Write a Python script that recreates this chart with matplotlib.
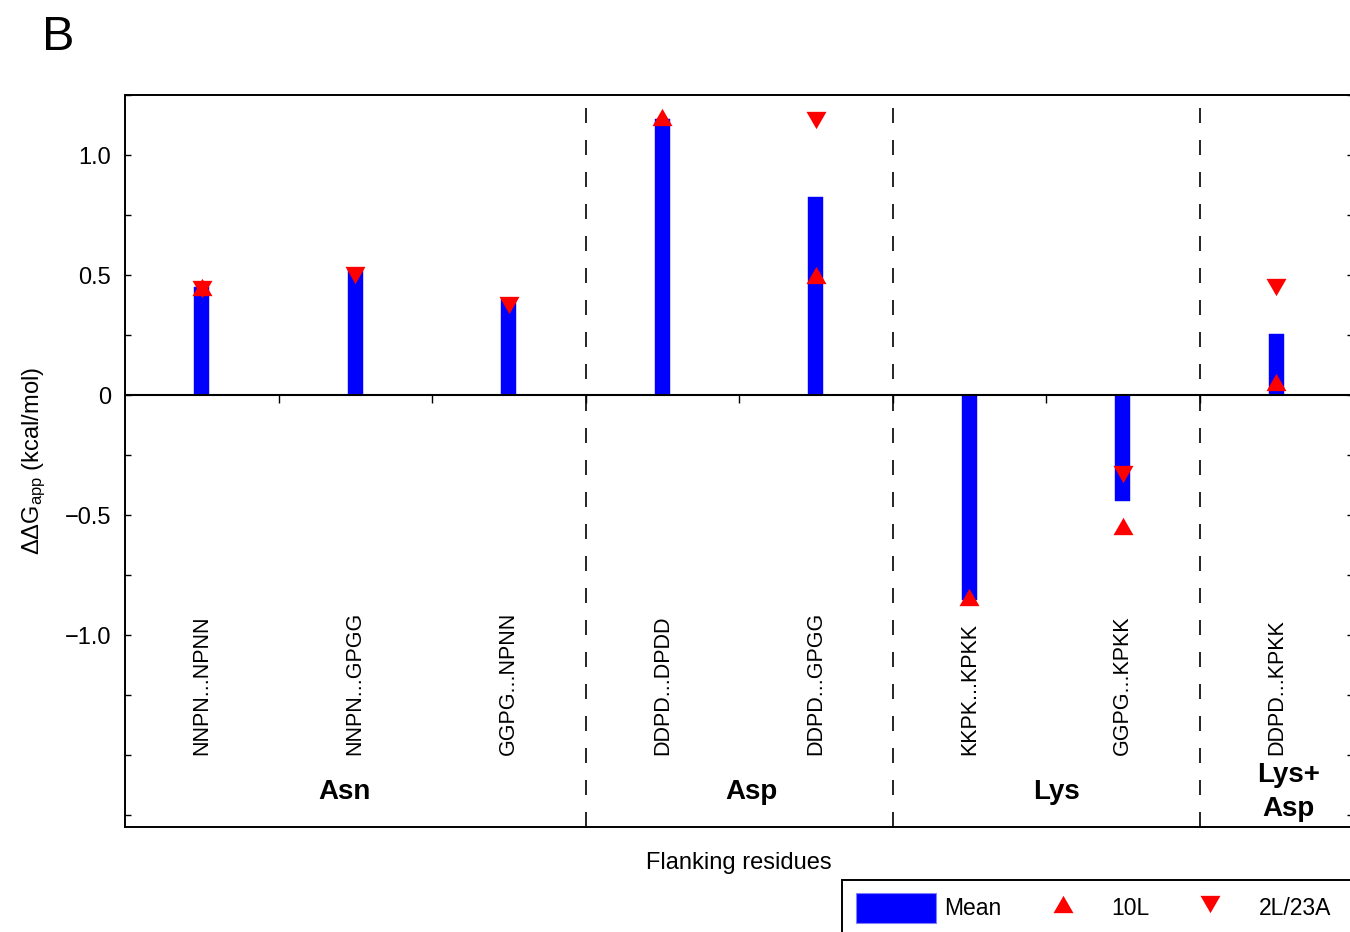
import numpy as np
import matplotlib
matplotlib.use("Agg")
import matplotlib.pyplot as plt
from matplotlib.lines import Line2D
from matplotlib.patches import Patch, Rectangle
from matplotlib.path import Path
from matplotlib.ticker import MultipleLocator, FuncFormatter

# ================= data =================
labels = ["NNPN...NPNN", "NNPN...GPGG", "GGPG...NPNN", "DDPD...DPDD",
          "DDPD...GPGG", "KKPK...KPKK", "GGPG...KPKK", "DDPD...KPKK"]
mean_ddg = [0.45, 0.52, 0.40, 1.15, 0.825, -0.855, -0.44, 0.255]
ddg_10L = [0.45, np.nan, np.nan, 1.16, 0.50, -0.84, -0.545, 0.055]
ddg_2L23A = [0.44, 0.50, 0.375, np.nan, 1.145, np.nan, -0.33, 0.45]

group_names = ["Asn", "Asp", "Lys", "Lys+\nAsp"]
group_sizes = [3, 2, 2, 1]

# equilateral triangles (matplotlib's ^/v are as tall as they are wide)
tri_up = Path([(-1, -0.866), (1, -0.866), (0, 0.866), (-1, -0.866)])
tri_down = Path([(-1, 0.866), (1, 0.866), (0, -0.866), (-1, 0.866)])


def tick_label(v, pos):
    # label every 0.5 between -1 and 1, leave the rest blank
    if abs(v * 2 - round(v * 2)) > 1e-9 or v < -1.01:
        return ''
    if abs(v) < 1e-9:
        return '0'
    return f'{v:.1f}'.replace('-', '\u2212')


def main():
    plt.rcParams['font.family'] = ['Liberation Sans', 'DejaVu Sans']
    plt.rcParams['mathtext.fontset'] = 'custom'
    plt.rcParams['mathtext.rm'] = 'Liberation Sans'
    plt.rcParams['mathtext.it'] = 'Liberation Sans'

    fig = plt.figure(figsize=(13.5, 9.32), dpi=100)
    ax = fig.add_axes([125 / 1350, 1 - 827 / 932, 1228 / 1350, 732 / 932])

    x = np.arange(len(labels))
    ylo, yhi = -1.8, 1.25

    # === bars + replicate markers ===
    ax.bar(x, mean_ddg, width=0.1, color='#0000ff', edgecolor='#0000ff',
           linewidth=0.3, zorder=2)
    ax.plot(x, ddg_10L, linestyle='none', marker=tri_up, markersize=14.4,
            color='red', markeredgewidth=0, zorder=3)
    ax.plot(x, ddg_2L23A, linestyle='none', marker=tri_down, markersize=14.4,
            color='red', markeredgewidth=0, zorder=3)

    # zero line with small ticks between categories
    ax.axhline(0, color='black', linewidth=1.5, zorder=4)
    ax.vlines(x[:-1] + 0.5, -0.034, 0, color='black', linewidth=1.0, zorder=4)

    # === group separators ===
    bounds = np.cumsum(group_sizes)[:-1] - 0.5
    for b in bounds:
        ax.plot([b, b], [yhi, ylo], color='black', linewidth=1.2,
                linestyle=(11.4, (9.0, 10.2)), zorder=1)

    # category labels and group names
    for xi, lab in zip(x, labels):
        ax.text(xi, -1.5, lab, rotation=90, ha='center', va='bottom',
                fontsize=15.5)
    nudge = [-0.07, 0.08, 0.07, 0.08]
    start = 0
    for name, n, dx in zip(group_names, group_sizes, nudge):
        cx = start + (n - 1) / 2 + dx
        ax.text(cx, -1.655, name, ha='center', va='center', fontsize=20,
                fontweight='bold', linespacing=1.4)
        start += n

    # === axes styling ===
    ax.set_xlim(-0.5, len(labels) - 0.5)
    ax.set_ylim(ylo, yhi)
    ax.set_xticks([])
    ax.yaxis.set_major_locator(MultipleLocator(0.25))
    ax.yaxis.set_major_formatter(FuncFormatter(tick_label))
    ax.tick_params(axis='y', direction='in', length=4.5, width=1.0,
                   labelsize=17, right=True, pad=10)
    for s in ax.spines.values():
        s.set_linewidth(1.4)

    ax.set_ylabel(r'$\Delta\Delta$G$_{\mathrm{app}}$ (kcal/mol)', fontsize=17,
                  labelpad=12)
    ax.set_xlabel('Flanking residues', fontsize=17, labelpad=18)

    fig.text(42 / 1350, 1 - 50 / 932, 'B', fontsize=35, ha='left', va='baseline')

    # === legend (box runs off the bottom-right corner) ===
    handles = [
        Patch(facecolor='#0000ff', edgecolor='#8080ff', linewidth=0.8, label='Mean'),
        Line2D([], [], linestyle='none', marker=tri_up, markersize=14.4,
               color='red', markeredgewidth=0, label='10L'),
        Line2D([], [], linestyle='none', marker=tri_down, markersize=14.4,
               color='red', markeredgewidth=0, label='2L/23A'),
    ]
    fig.legend(handles=handles, loc='upper left', ncol=3,
               bbox_to_anchor=(843 / 1350, 1 - 880 / 932),
               fontsize=16.5, frameon=False,
               handlelength=3.5, handleheight=1.65, handletextpad=0.38,
               columnspacing=0.9, borderpad=0.55, borderaxespad=0)
    fig.patches.append(Rectangle((842 / 1350, -0.05), 0.5, 0.05 + 52 / 932,
                                 transform=fig.transFigure, fill=False,
                                 edgecolor='black', linewidth=1.4))

    plt.savefig('out.png', dpi=100)


if __name__ == "__main__":
    main()
